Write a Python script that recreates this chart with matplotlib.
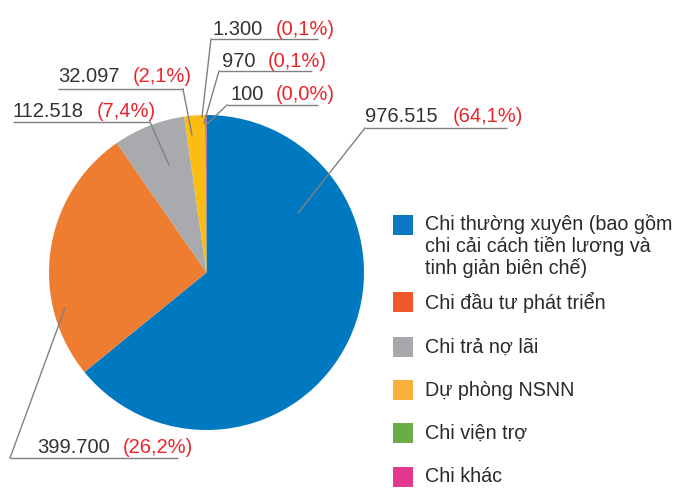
import matplotlib
matplotlib.use('Agg')
import matplotlib.pyplot as plt
from matplotlib.patches import Rectangle

W, H = 677, 488

# --- dados ---
values = [976515, 399700, 112518, 32097, 1300, 970, 100]
value_labels = ['976.515', '399.700', '112.518', '32.097', '1.300', '970', '100']
pct_labels = ['(64,1%)', '(26,2%)', '(7,4%)', '(2,1%)', '(0,1%)', '(0,1%)', '(0,0%)']
slice_colors = ['#0079c1', '#ee7d31', '#a8aaad', '#fbbd14', '#5fae46', '#e23b8c', '#e23b8c']

categories = ['Chi thường xuyên (bao gồm\nchi cải cách tiền lương và\ntinh giản biên chế)',
              'Chi đầu tư phát triển',
              'Chi trả nợ lãi',
              'Dự phòng NSNN',
              'Chi viện trợ',
              'Chi khác']
legend_colors = ['#0a78c2', '#f05a2b', '#a6a8ab', '#fbb03b', '#6aac46', '#e4388e']

# posicoes dos rotulos em pixels da imagem (y para baixo)
# text_x, baseline, pct_x, underline x0, x1, y, elbow x, target x, target y
callouts = [
    (365, 122, 453, 365, 507, 128, 365, 298, 213),
    (37, 453, 123, 10, 178, 458, 10, 65, 308),
    (12, 117, 97, 13, 150, 122, 150, 169, 165),
    (58, 82, 133, 58, 183, 89, 183, 192, 135),
    (213, 35, 276, 211, 318, 39, 211, 202, 117),
    (222, 67, 268, 219, 312, 71, 219, 204, 123),
    (230, 100, 276, 227, 318, 105, 227, 206, 125),
]
legend_y = [225, 302, 347, 390, 433, 477]


def fy(y):
    return H - y


fig = plt.figure(figsize=(W / 100, H / 100), dpi=100)
ax = fig.add_axes([0, 0, 1, 1])

ax.pie(values, colors=slice_colors, startangle=90, counterclock=False,
       center=(206.5, fy(272.5)), radius=157.5,
       wedgeprops=dict(linewidth=0.3, edgecolor='none'))

label_font = dict(family='Liberation Sans', size=14.5)
line_color = '#808080'

for i, c in enumerate(callouts):
    tx, base, px, x0, x1, ly, ex, gx, gy = c
    ax.text(tx, fy(base), value_labels[i], color='#333333', ha='left', va='baseline', **label_font)
    ax.text(px, fy(base), pct_labels[i], color='#e9252b', ha='left', va='baseline', **label_font)
    ax.plot([x0, x1], [fy(ly), fy(ly)], color=line_color, lw=1.0, solid_capstyle='butt')
    ax.plot([ex, gx], [fy(ly), fy(gy)], color=line_color, lw=1.0)

# legenda manual
for i, lab in enumerate(categories):
    y = legend_y[i]
    ax.add_patch(Rectangle((393, fy(y) - 10), 20, 20, color=legend_colors[i], lw=0))
    if '\n' in lab:
        ax.text(425, fy(y) + 11, lab, ha='left', va='top', fontsize=14.2,
                family='Liberation Sans', color='#2a2a2a', linespacing=1.12)
    else:
        ax.text(425, fy(y), lab, ha='left', va='center', fontsize=14.2,
                family='Liberation Sans', color='#2a2a2a')

ax.set_xlim(0, W)
ax.set_ylim(0, H)
ax.set_aspect('equal')
ax.axis('off')

plt.savefig('out.png', dpi=100)
